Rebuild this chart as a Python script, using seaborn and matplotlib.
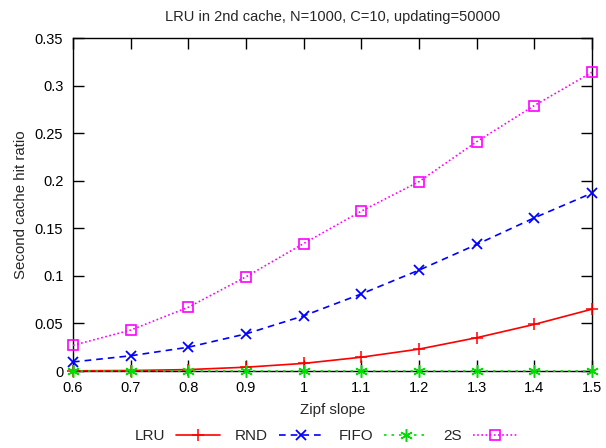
import matplotlib
matplotlib.use("Agg")
import matplotlib.pyplot as plt
import matplotlib.ticker as mticker
import seaborn as sns
import pandas as pd

zipf = [0.6, 0.7, 0.8, 0.9, 1.0, 1.1, 1.2, 1.3, 1.4, 1.5]
lru = [0.0002, 0.0005, 0.0015, 0.004, 0.008, 0.0145, 0.023, 0.035, 0.049, 0.065]
rnd = [0.0095, 0.016, 0.025, 0.039, 0.058, 0.081, 0.106, 0.133, 0.161, 0.187]
fifo = [0.0, 0.0, 0.0, 0.0, 0.0, 0.0, 0.0, 0.0, 0.0, 0.0]
s2 = [0.027, 0.043, 0.067, 0.099, 0.134, 0.168, 0.199, 0.241, 0.279, 0.314]
series_names = ["LRU", "RND", "FIFO", "2S"]

sns.set_theme(style="ticks")
plt.rcParams['font.family'] = ['Liberation Sans', 'DejaVu Sans']

fig = plt.figure(figsize=(6.06, 4.48), dpi=100)
ax = fig.add_axes([73 / 606, 77 / 448, 519 / 606, 333 / 448])

colors = ["#ff0000", "#0000ff", "#00dd00", "#ff00ff"]
styles = [
    dict(marker="+", linestyle="-", markersize=9, markeredgewidth=1.1),
    dict(marker="x", linestyle=(0, (4, 3)), markersize=7, markeredgewidth=1.3),
    dict(marker=(6, 2, 0), linestyle=(0, (1.5, 3)), markersize=9, markeredgewidth=1.1),
    dict(marker="s", linestyle=(0, (1, 1.5)), markersize=6.5, markeredgewidth=1.2, markerfacecolor="none"),
]
for name, vals, c, st in zip(series_names, [lru, rnd, fifo, s2], colors, styles):
    df = pd.DataFrame({"x": zipf, "y": vals})
    sns.lineplot(data=df, x="x", y="y", ax=ax, label=name, lw=1.2, clip_on=False, zorder=3,
                 color=c, markeredgecolor=c, **st)

ax.set_xlim(0.6, 1.5)
ax.set_ylim(0, 0.35)
ax.xaxis.set_major_locator(mticker.MultipleLocator(0.1))
ax.yaxis.set_major_locator(mticker.MultipleLocator(0.05))
fmt = mticker.FuncFormatter(lambda v, p: "%g" % round(v, 3))
ax.xaxis.set_major_formatter(fmt)
ax.yaxis.set_major_formatter(fmt)
ax.tick_params(direction="in", length=8, width=1, top=True, right=True, labelsize=10.5, colors="black", pad=7)
for sp in ax.spines.values():
    sp.set_visible(True)
    sp.set_color("black")
    sp.set_linewidth(1.0)

ax.set_xlabel("Zipf slope", fontsize=10.8, labelpad=6)
ax.set_ylabel("Second cache hit ratio", fontsize=10.8, labelpad=5)
ax.set_title("LRU in 2nd cache, N=1000, C=10, updating=50000", fontsize=10.5, pad=12)

ax.legend(loc="upper center", bbox_to_anchor=(0.487, -0.133), ncol=4, frameon=False,
          markerfirst=False, fontsize=11, handlelength=2.9, columnspacing=1.0, handletextpad=0.7)

fig.savefig("out.png", dpi=100)
